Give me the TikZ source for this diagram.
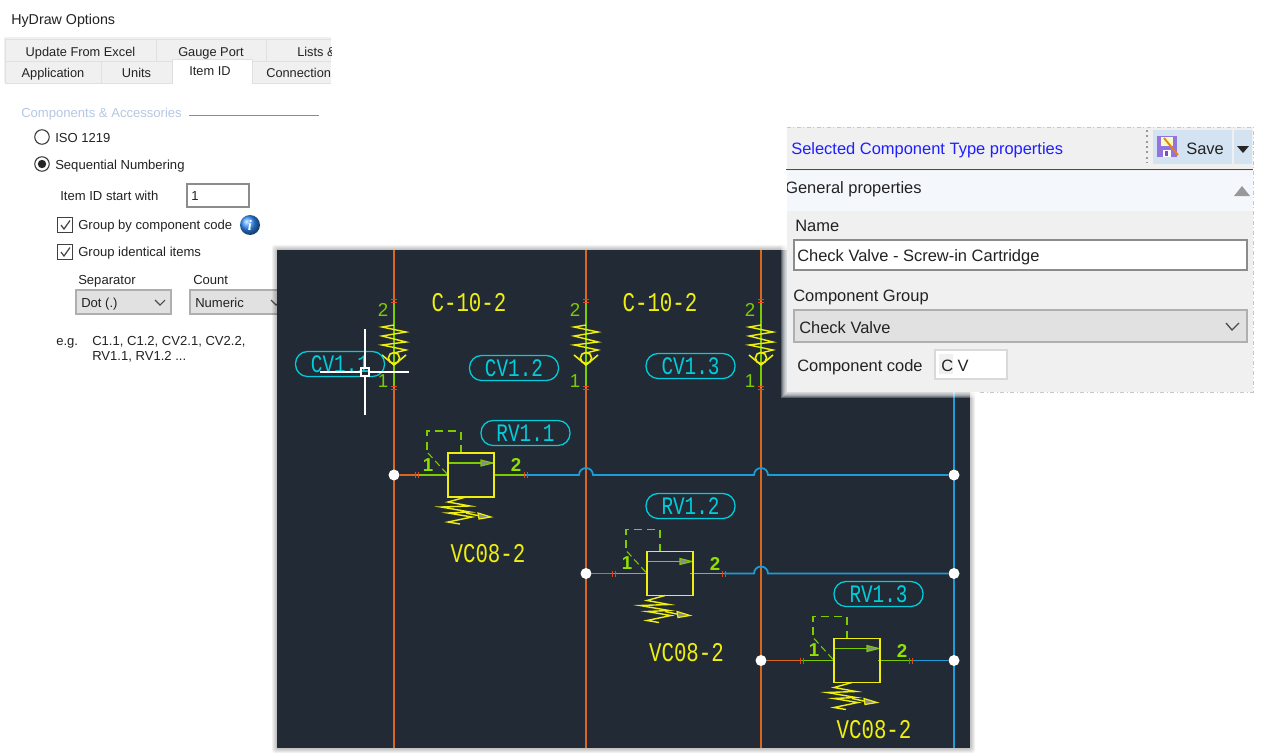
\documentclass[tikz,border=0pt]{standalone}
\usepackage{fontspec}
\setmainfont{Liberation Sans}
\newfontfamily\cadfont{Liberation Mono}
\newfontfamily\infofont{Liberation Serif}
\definecolor{cadbg}{HTML}{222B35}
\definecolor{cadorange}{HTML}{D9681C}
\definecolor{cadtick}{HTML}{E0481C}
\definecolor{cadgreen}{HTML}{7CCC00}
\definecolor{cadlime}{HTML}{90E000}
\definecolor{cadyellow}{HTML}{EEEE10}
\definecolor{cadblue}{HTML}{1C9CD8}
\definecolor{cadcyan}{HTML}{00CEDC}
\definecolor{tabgray}{HTML}{F0F0F0}
\definecolor{tabline}{HTML}{E0E0E0}
\definecolor{combogray}{HTML}{E1E1E1}
\definecolor{boxline}{HTML}{8C8C8C}
\definecolor{txt}{HTML}{222222}
\definecolor{savebg}{HTML}{D3E3F1}
\definecolor{stripbg}{HTML}{F4F7FC}
\tikzset{
 ltext/.style={anchor=base west,inner sep=0pt,text=txt,font=\fontsize{9.8pt}{11pt}\selectfont},
 rtext/.style={anchor=base west,inner sep=0pt,text=txt,font=\fontsize{12.35pt}{14pt}\selectfont},
 tabtext/.style={anchor=base,inner sep=0pt,text=txt,font=\fontsize{9.6pt}{11pt}\selectfont},
 tabbox/.style={fill=tabgray,draw=tabline,line width=.75pt},
 uibox/.style={fill=white,draw=boxline,line width=1.1pt},
 combo/.style={fill=combogray,draw=boxline!70,line width=1.1pt},
 chevron/.style={draw=black!70,line width=.8pt},
 caddot/.style={circle,fill=white,inner sep=0pt,minimum size=11*.75pt},
 orangeline/.style={draw=cadorange,line width=1.3pt},
 blueline/.style={draw=cadblue,line width=1.3pt},
 greenline/.style={draw=cadgreen,line width=1.3pt},
 yellowline/.style={draw=cadyellow,line width=1.05pt},
 bubble/.style={draw=cadcyan,line width=.95pt,rounded corners=9pt,minimum width=89*.75pt,minimum height=25*.75pt,inner sep=0pt,text=cadcyan,font=\cadfont\fontsize{14.5pt}{15pt}\selectfont},
 cadcode/.style={inner sep=0pt,text=cadyellow,font=\cadfont\fontsize{15.6pt}{17pt}\selectfont},
 portnum/.style={inner sep=0pt,text=cadgreen,font=\fontsize{14pt}{15pt}\selectfont},
 portbold/.style={inner sep=0pt,text=cadlime,font=\bfseries\fontsize{14pt}{15pt}\selectfont},
}
\newcommand{\vtick}[2]{\draw[cadtick,line width=.7pt] (#1-3,#2-1.2) -- (#1+3,#2-1.2) (#1-3,#2+1.2) -- (#1+3,#2+1.2);}
\newcommand{\htick}[2]{\draw[cadtick,line width=.7pt] (#1-1.2,#2-3) -- (#1-1.2,#2+3) (#1+1.2,#2-3) -- (#1+1.2,#2+3);}
\newcommand{\tall}[1]{\scalebox{1}[1.3]{#1}}
\newcommand{\checkvalve}[2]{%
 \begin{scope}[shift={(#1,358)}]
  \draw[yellowline] (0,-33) -- (-12,-31) -- (12,-26) -- (-12,-22) -- (12,-16) -- (-12,-13) -- (12,-8) -- (0,-5);
  \draw[yellowline,line width=1.2pt] (0,0) circle (5.6);
  \draw[yellowline,line width=1.2pt] (-12,-3) -- (0,7) -- (12,-3);
 \end{scope}
 \node[portnum] (p2#2) at (#1-11,310) {2};
 \node[portnum] (p1#2) at (#1-11,381) {1};
}
\newcommand{\reliefvalve}[3]{%
 \begin{scope}[shift={(#1,#2)}]
  \draw[greenline,line width=.9pt,dash pattern=on 6pt off 4pt] (13,-22) -- (13,-44) -- (-21,-44) -- (-21,-22);
  \draw[greenline,line width=.8pt,dash pattern=on 5pt off 3pt] (-20,-22) -- (0,0);
  \draw[greenline] (0,-12) -- (46,-12);
  \fill[black!45,draw=cadgreen,line width=.8pt] (33,-15) -- (45,-12) -- (33,-9) -- cycle;
  \draw[draw=cadyellow,line width=1.25pt] (0,-22) rectangle (46,22);
  \draw[yellowline] (18,22) -- (0,27) -- (22,31) -- (-7,32) -- (22,37) -- (0,38) -- (24,42) -- (0,47) -- (12,49);
  \draw[yellowline] (18,38) -- (32,41);
  \fill[black!45,draw=cadyellow,line width=.9pt] (30,38) -- (43,42) -- (31,44) -- cycle;
 \end{scope}
 \node[portbold] (rin#3) at (#1-20,#2-10) {1};
 \node[portbold] (rout#3) at (#1+68,#2-10) {2};
}
\begin{document}
\begin{tikzpicture}[x=.75pt,y=-.75pt]
\useasboundingbox (0,0) rectangle (1261,753);
\fill[white] (0,0) rectangle (1261,753);
% ---------- left options panel ----------
\node[anchor=base west,inner sep=0pt,text=txt,font=\fontsize{10.7pt}{12pt}\selectfont] (title) at (11,24) {HyDraw Options};
\fill[tabgray] (4,37) rectangle (331,83);
\foreach \a/\b/\t/\nm in {5/156/{Update From Excel}/ta,156/266/{Gauge Port}/tb}{
 \draw[tabbox] (\a,39) rectangle (\b,61);
 \node[tabtext] (\nm) at ({(\a+\b)/2},56) {\t};
}
\draw[tabline,line width=.75pt,fill=tabgray] (331,39) -- (266,39) -- (266,61) -- (331,61);
\begin{scope}
 \clip (266,30) rectangle (331,62);
 \node[tabtext,anchor=base west] (tc) at (297,56) {Lists \&};
\end{scope}
\foreach \a/\b/\t/\nm in {5/101/Application/td,101/172/Units/te}{
 \draw[tabbox] (\a,61) rectangle (\b,83);
 \node[tabtext] (\nm) at ({(\a+\b)/2},77) {\t};
}
\draw[tabline,line width=.75pt,fill=tabgray] (331,61) -- (252,61) -- (252,83) -- (331,83);
\begin{scope}
 \clip (252,55) rectangle (331,85);
 \node[tabtext,anchor=base west] (tf) at (266,77) {Connection};
\end{scope}
\draw[tabline,line width=.75pt,fill=white] (172,84) -- (172,59) -- (252,59) -- (252,84);
\node[tabtext] (tg) at (210,75) {Item ID};
\node[ltext,text=blue!30!white] (compacc) at (21,117) {\textcolor[HTML]{B4C8E4}{Components \& Accessories}};
\coordinate (sepa) at (189,115); \coordinate (sepb) at (319,115);
\draw[black!45,line width=.75pt] (sepa) -- (sepb);
\node[circle,draw=black!80,fill=white,line width=.8pt,minimum size=14.5*.75pt,inner sep=0pt] (rad1) at (42,137) {};
\node[circle,draw=black!80,fill=white,line width=.8pt,minimum size=14.5*.75pt,inner sep=0pt] (rad2) at (42,164) {};
\fill[black!85] (rad2) circle (4.2);
\node[ltext] (iso) at (55,142) {ISO 1219};
\node[ltext] (seq) at (55,169) {Sequential Numbering};
\node[ltext] (startl) at (60,200) {Item ID start with};
\draw[uibox] (187,184) rectangle (249,207);
\node[ltext] (startv) at (191,200) {1};
\foreach \y/\nm in {225/cba,252/cbb}{
 \node[draw=black!75,fill=white,line width=.9pt,minimum size=14.5*.75pt,inner sep=0pt] (\nm) at (65,\y) {};
 \draw[black!75,line width=.9pt] (61,\y) -- (64,\y+4) -- (70,\y-4.5);
}
\node[ltext] (grpa) at (78,229) {Group by component code};
\node[ltext] (grpb) at (78,256) {Group identical items};
\shade[ball color=blue!55!cyan!80!white] (250,225) circle (10);
\node[inner sep=0pt,text=white,font=\infofont\bfseries\itshape\fontsize{11pt}{12pt}\selectfont] (infoi) at (250,225) {i};
\node[ltext] (sepl) at (78,284) {Separator};
\node[ltext] (cntl) at (193,284) {Count};
\draw[combo] (76,290) rectangle (171,314);
\node[ltext] (dot) at (81,307) {Dot (.)};
\draw[chevron] (155,300) -- (160,305) -- (165,300);
\draw[combo] (190,290) rectangle (290,314);
\node[ltext] (numer) at (195,307) {Numeric};
\draw[chevron] (271,300) -- (276,305) -- (281,300);
\node[ltext] (eg) at (56,345) {e.g.};
\node[ltext] (ega) at (92,345) {C1.1, C1.2, CV2.1, CV2.2,};
\node[ltext] (egb) at (92,360) {RV1.1, RV1.2 ...};
% ---------- CAD picture with soft shadow ----------
\foreach \o in {5,4,3,2,1}{
 \fill[black,opacity=.05,rounded corners=2pt] (277-\o,250-\o) rectangle (970+\o,748+\o);
}
\fill[cadbg] (277,250) rectangle (970,748);
\coordinate (va1) at (394,250); \coordinate (vb1) at (394,748);
\coordinate (va2) at (586,250); \coordinate (vb2) at (586,748);
\coordinate (va3) at (761,250); \coordinate (vb3) at (761,748);
\draw[orangeline] (va1) -- (vb1);
\draw[orangeline] (va2) -- (vb2);
\draw[orangeline] (va3) -- (vb3);
\coordinate (vc) at (954,380); \coordinate (vd) at (954,748);
\draw[blueline] (vc) -- (vd);
\foreach \x in {394,586,761}{
 \draw[greenline] (\x,301) -- (\x,388);
 \vtick{\x}{301}
 \vtick{\x}{388}
}
\checkvalve{394}{a}
\checkvalve{586}{b}
\checkvalve{761}{c}
\node[cadcode] (ca) at (469,303) {\tall{C-10-2}};
\node[cadcode] (cb) at (660,303) {\tall{C-10-2}};
\node[bubble] (bcv1) at (340,364) {\tall{CV1.1}};
\node[bubble] (bcv2) at (514,368) {\tall{CV1.2}};
\node[bubble] (bcv3) at (690.5,366) {\tall{CV1.3}};
\coordinate (xhc) at (365,372);
\draw[white,line width=.9pt] (365,329) -- (365,368) (365,376) -- (365,415) (320,372) -- (361,372) (369,372) -- (409,372);
\draw[white,line width=.9pt] (361,368) rectangle (369,376);
% relief valve 1
\coordinate (t1a) at (417,475); \coordinate (t1b) at (526,475);
\coordinate (b1l) at (448,475); \coordinate (b1r) at (494,475);
\node[caddot] (d1a) at (394,475) {};
\node[caddot] (d1b) at (954,475) {};
\draw[orangeline] (d1a) -- (t1a);
\draw[greenline] (t1a) -- (b1l) (b1r) -- (t1b);
\draw[blueline] (t1b) -- (579,475) arc[start angle=180,end angle=360,radius=7] -- (754,475) arc[start angle=180,end angle=360,radius=7] -- (d1b);
\htick{417}{475}\htick{526}{475}
\reliefvalve{448}{475}{a}
\node[bubble] (brv1) at (525.5,433) {\tall{RV1.1}};
\node[cadcode] (vc1) at (488,554) {\tall{VC08-2}};
% relief valve 2
\coordinate (t2a) at (614,573.5); \coordinate (t2b) at (724,573.5);
\coordinate (b2l) at (647,573.5); \coordinate (b2r) at (690,573.5);
\node[caddot] (d2a) at (586,573.5) {};
\node[caddot] (d2b) at (954,573.5) {};
\draw[orangeline] (d2a) -- (t2a);
\draw[greenline] (t2a) -- (b2l) (b2r) -- (t2b);
\draw[blueline] (t2b) -- (754,573.5) arc[start angle=180,end angle=360,radius=7] -- (d2b);
\htick{614}{573.5}\htick{724}{573.5}
\reliefvalve{647}{573.5}{b}
\node[bubble] (brv2) at (690.5,506) {\tall{RV1.2}};
\node[cadcode] (vc2) at (686.5,653) {\tall{VC08-2}};
% relief valve 3
\coordinate (t3a) at (802,660.5); \coordinate (t3b) at (911,660.5);
\coordinate (b3l) at (834,660.5); \coordinate (b3r) at (878,660.5);
\node[caddot] (d3a) at (761,660.5) {};
\node[caddot] (d3b) at (954,660.5) {};
\draw[orangeline] (d3a) -- (t3a);
\draw[greenline] (t3a) -- (b3l) (b3r) -- (t3b);
\draw[blueline] (t3b) -- (d3b);
\htick{802}{660.5}\htick{911}{660.5}
\reliefvalve{834}{660.5}{c}
\node[bubble] (brv3) at (878.5,594) {\tall{RV1.3}};
\node[cadcode] (vc3) at (874,730) {\tall{VC08-2}};
% ---------- right properties panel ----------
\foreach \o in {6,5,4,3,2,1}{
 \fill[white,opacity=.25] (787-\o,127-\o) rectangle (1253+\o,392+\o);
}
\fill[tabgray] (787,127) rectangle (1253,392);
\draw[black!22,line width=.7pt,dash pattern=on 3pt off 1.5pt on 1pt off 2pt] (787,127) -- (1253,127) -- (1253,392) -- (980,392);
\node[rtext,text=blue!88!white] (seltitle) at (791,154) {Selected Component Type properties};
\draw[black!40,line width=1.2pt,dash pattern=on 1.5pt off 2.5pt] (1147,130) -- (1147,163);
\fill[savebg] (1153,130) rectangle (1232,164);
\fill[savebg] (1234,130) rectangle (1252,164);
\fill[violet!45!blue!55!white] (1157,136) rectangle (1177,157);
\fill[green!20!yellow!25!white] (1161,137) rectangle (1173,146);
\fill[white] (1163,150) rectangle (1171,157);
\fill[violet!55!blue!70!white] (1165,151) rectangle (1168,156);
\draw[orange!70!brown,line width=1.4pt] (1164,138) -- (1178,155);
\node[rtext] (savet) at (1186,154) {Save};
\fill[black!85] (1237,146) -- (1249,146) -- (1243,153) -- cycle;
\coordinate (hla) at (786,169.5); \coordinate (hlb) at (1253,169.5);
\draw[black!70,line width=1.1pt] (hla) -- (hlb);
\fill[stripbg] (787,170.5) rectangle (1253,211);
\begin{scope}
 \clip (787,170) rectangle (1000,211);
 \node[rtext] (genp) at (785,193) {General properties};
\end{scope}
\fill[black!40] (1234,196) -- (1250,196) -- (1242,186) -- cycle;
\node[rtext] (namel) at (795,231) {Name};
\draw[uibox,line width=1.3pt] (794,240) rectangle (1247,270);
\node[rtext] (namev) at (797,261) {Check Valve - Screw-in Cartridge};
\node[rtext] (grpl) at (793,301) {Component Group};
\draw[combo,line width=1.3pt] (794,310) rectangle (1247,342);
\node[rtext] (grpv) at (799,333) {Check Valve};
\draw[chevron,line width=1pt] (1226,323) -- (1232,330) -- (1239,323);
\node[rtext] (codel) at (797,371) {Component code};
\draw[fill=white,draw=black!15,line width=1pt] (935,350) rectangle (1007,379);
\fill[black!6] (939,354) rectangle (953,374);
\node[rtext] (codev) at (941,371) {C V};
\end{tikzpicture}
\end{document}
